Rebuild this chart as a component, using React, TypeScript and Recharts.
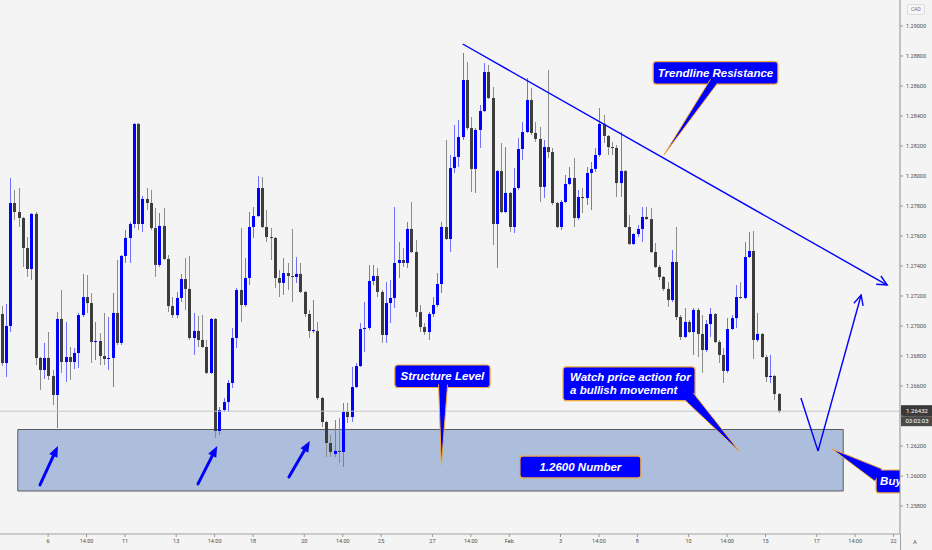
import React from 'react';
import { ComposedChart, Bar, XAxis, YAxis, ReferenceLine, ReferenceArea } from 'recharts';

// USDCAD 4H candles (one value per candle)
const opens = [
  1.2708, 1.26753, 1.27, 1.2782, 1.2776, 1.2772, 1.2752, 1.2738, 1.27747, 1.26787,
  1.26707, 1.26787, 1.26667, 1.2654, 1.27047, 1.2676, 1.26793, 1.2676, 1.2682, 1.27073,
  1.27193, 1.27153, 1.26893, 1.269, 1.268, 1.2678, 1.26787, 1.27087, 1.26887, 1.27467,
  1.27587, 1.2768, 1.28347, 1.2768, 1.27847, 1.2782, 1.27653, 1.27407, 1.27667, 1.27447,
  1.27133, 1.27073, 1.27187, 1.27313, 1.27247, 1.2692, 1.26967, 1.26907, 1.2686, 1.26687,
  1.27047, 1.263, 1.2644, 1.26493, 1.2662, 1.2692, 1.2724, 1.2714, 1.2732, 1.2766,
  1.27733, 1.2792, 1.2766, 1.27593, 1.27587, 1.2732, 1.27287, 1.27353, 1.27333, 1.27327,
  1.27347, 1.27227, 1.2708, 1.26967, 1.26967, 1.2652, 1.2636, 1.2622, 1.26147, 1.26167,
  1.2616, 1.26427, 1.26393, 1.26593, 1.26733, 1.2698, 1.26987, 1.273, 1.27333, 1.27227,
  1.2694, 1.27153, 1.27187, 1.2742, 1.2744, 1.2742, 1.27647, 1.27493, 1.27093, 1.26993,
  1.2696, 1.2708, 1.2714, 1.2728, 1.2766, 1.2758, 1.28053, 1.28127, 1.2826, 1.2864,
  1.2832, 1.28047, 1.28307, 1.28433, 1.28693, 1.2852, 1.2768, 1.28033, 1.2776, 1.27887,
  1.2766, 1.2792, 1.2818, 1.28293, 1.28507, 1.28287, 1.28247, 1.27927, 1.28193, 1.2816,
  1.2782, 1.2766, 1.27827, 1.27947, 1.27987, 1.2772, 1.2786, 1.27853, 1.2802, 1.28047,
  1.2814, 1.28347, 1.28267, 1.28193, 1.28187, 1.27953, 1.28033, 1.2766, 1.27547, 1.27613,
  1.27647, 1.27727, 1.27713, 1.27493, 1.27393, 1.27327, 1.27247, 1.27173, 1.27427, 1.2706,
  1.26927, 1.27027, 1.2696, 1.27107, 1.26947, 1.2684, 1.27013, 1.2708, 1.26893, 1.26807,
  1.267, 1.2698, 1.27053, 1.27193, 1.27187, 1.2746, 1.275, 1.26907, 1.26947, 1.26793,
  1.2666, 1.26667, 1.26547,
];
const highs = [
  1.27133, 1.27147, 1.27987, 1.27907, 1.2792, 1.27727, 1.27593, 1.27753, 1.2776, 1.26793,
  1.26887, 1.2696, 1.26707, 1.27093, 1.2724, 1.27027, 1.2686, 1.26853, 1.27087, 1.27347,
  1.2734, 1.2722, 1.27027, 1.26953, 1.27087, 1.2706, 1.2722, 1.2744, 1.27473, 1.2764,
  1.27693, 1.28353, 1.28353, 1.27867, 1.2792, 1.27907, 1.27787, 1.27753, 1.27787, 1.27473,
  1.27193, 1.27227, 1.27347, 1.27453, 1.27467, 1.27087, 1.27067, 1.27073, 1.26907, 1.27053,
  1.27053, 1.2646, 1.2652, 1.2664, 1.26987, 1.27253, 1.27653, 1.27453, 1.2776, 1.27793,
  1.28, 1.27993, 1.27773, 1.27653, 1.27593, 1.27373, 1.27453, 1.2742, 1.27647, 1.2746,
  1.2742, 1.27233, 1.27107, 1.27173, 1.27027, 1.26527, 1.26367, 1.26273, 1.26373, 1.26387,
  1.26487, 1.26487, 1.26727, 1.26753, 1.2702, 1.2716, 1.27407, 1.27407, 1.27387, 1.2724,
  1.27293, 1.27307, 1.27793, 1.2756, 1.2752, 1.27693, 1.27827, 1.27573, 1.2714, 1.2702,
  1.27093, 1.27193, 1.27353, 1.27693, 1.2824, 1.2814, 1.2834, 1.28373, 1.2882, 1.2876,
  1.28393, 1.2832, 1.28473, 1.28753, 1.2874, 1.28593, 1.2804, 1.2822, 1.28193, 1.27893,
  1.28053, 1.28253, 1.2836, 1.28653, 1.28587, 1.2836, 1.28327, 1.2824, 1.28707, 1.28187,
  1.27827, 1.2784, 1.28007, 1.2806, 1.2812, 1.27907, 1.2792, 1.2806, 1.28093, 1.28187,
  1.28453, 1.28407, 1.28273, 1.28227, 1.28207, 1.28293, 1.2804, 1.2774, 1.2762, 1.27673,
  1.27793, 1.27793, 1.27787, 1.27553, 1.27407, 1.27333, 1.27293, 1.27507, 1.2766, 1.27073,
  1.2712, 1.2704, 1.2712, 1.2712, 1.27073, 1.2704, 1.2712, 1.27087, 1.26907, 1.26853,
  1.27053, 1.27073, 1.27273, 1.27293, 1.2756, 1.27627, 1.27633, 1.27087, 1.26953, 1.26807,
  1.26807, 1.26673, 1.26553,
];
const lows = [
  1.26733, 1.2666, 1.2696, 1.27707, 1.2766, 1.27393, 1.27327, 1.27307, 1.2674, 1.26573,
  1.26647, 1.2664, 1.26473, 1.2632, 1.26687, 1.26627, 1.2664, 1.26713, 1.2672, 1.2706,
  1.27087, 1.26753, 1.26773, 1.2674, 1.2674, 1.26707, 1.26593, 1.26873, 1.26873, 1.2742,
  1.2742, 1.27653, 1.2764, 1.27627, 1.27773, 1.2764, 1.27327, 1.27393, 1.2744, 1.27093,
  1.27053, 1.27053, 1.2716, 1.27107, 1.26907, 1.26807, 1.2686, 1.26853, 1.2668, 1.2668,
  1.26253, 1.26273, 1.26427, 1.26427, 1.26587, 1.26853, 1.27027, 1.27127, 1.27273, 1.27587,
  1.27727, 1.27653, 1.2756, 1.2744, 1.27253, 1.27193, 1.27207, 1.2724, 1.2716, 1.27287,
  1.2722, 1.2706, 1.2692, 1.26953, 1.26507, 1.26327, 1.26127, 1.26127, 1.26127, 1.26087,
  1.2606, 1.26353, 1.2636, 1.26587, 1.26727, 1.26827, 1.26973, 1.27273, 1.27193, 1.26887,
  1.26887, 1.2702, 1.2712, 1.2732, 1.27393, 1.27387, 1.27487, 1.2706, 1.2696, 1.2694,
  1.26907, 1.2706, 1.27127, 1.2722, 1.27573, 1.27493, 1.2802, 1.2806, 1.2824, 1.28307,
  1.27893, 1.27887, 1.28187, 1.28427, 1.28513, 1.2754, 1.27387, 1.27753, 1.27753, 1.27627,
  1.2762, 1.27907, 1.28107, 1.28287, 1.28273, 1.28227, 1.27827, 1.27853, 1.2812, 1.27807,
  1.27653, 1.2764, 1.2782, 1.2794, 1.2766, 1.27707, 1.27753, 1.27807, 1.27773, 1.28027,
  1.28127, 1.2822, 1.2814, 1.2814, 1.2786, 1.2786, 1.27653, 1.2754, 1.2754, 1.27593,
  1.2756, 1.27707, 1.27487, 1.27387, 1.27307, 1.27233, 1.27127, 1.2716, 1.2704, 1.26907,
  1.2692, 1.26953, 1.26807, 1.26793, 1.26687, 1.26827, 1.26927, 1.26887, 1.26753, 1.2662,
  1.26687, 1.26973, 1.26987, 1.2718, 1.2718, 1.27453, 1.2678, 1.26893, 1.26787, 1.26627,
  1.2662, 1.26507, 1.2642,
];
const closes = [
  1.26753, 1.27, 1.2782, 1.2776, 1.2772, 1.2752, 1.2738, 1.27747, 1.26787, 1.26707,
  1.26787, 1.26667, 1.2654, 1.27047, 1.2676, 1.26793, 1.2676, 1.2682, 1.27073, 1.27193,
  1.27153, 1.26893, 1.269, 1.268, 1.2678, 1.26787, 1.27087, 1.26887, 1.27467, 1.27587,
  1.2768, 1.28347, 1.2768, 1.27847, 1.2782, 1.27653, 1.27407, 1.27667, 1.27447, 1.27133,
  1.27073, 1.27187, 1.27313, 1.27247, 1.2692, 1.26967, 1.26907, 1.2686, 1.26687, 1.27047,
  1.263, 1.2644, 1.26493, 1.2662, 1.2692, 1.2724, 1.2714, 1.2732, 1.2766, 1.27733,
  1.2792, 1.2766, 1.27593, 1.27587, 1.2732, 1.27287, 1.27353, 1.27333, 1.27327, 1.27347,
  1.27227, 1.2708, 1.26967, 1.26973, 1.2652, 1.2636, 1.2622, 1.2616, 1.26167, 1.2616,
  1.26427, 1.26393, 1.26593, 1.26733, 1.2698, 1.26987, 1.273, 1.27333, 1.27227, 1.2694,
  1.27153, 1.27187, 1.2742, 1.2744, 1.2742, 1.27647, 1.27493, 1.27093, 1.26993, 1.2696,
  1.2708, 1.2714, 1.2728, 1.2766, 1.2758, 1.28053, 1.28127, 1.2826, 1.2864, 1.2832,
  1.28047, 1.28307, 1.28433, 1.28693, 1.2852, 1.2768, 1.28033, 1.2776, 1.27887, 1.2766,
  1.2792, 1.2818, 1.28293, 1.28507, 1.28287, 1.28247, 1.27927, 1.28193, 1.2816, 1.2782,
  1.2766, 1.27827, 1.27947, 1.27987, 1.2772, 1.2786, 1.27853, 1.2802, 1.28047, 1.2814,
  1.28347, 1.28267, 1.28193, 1.28187, 1.27953, 1.28033, 1.2766, 1.27547, 1.27613, 1.27647,
  1.27727, 1.27713, 1.27493, 1.27393, 1.27327, 1.27247, 1.27173, 1.27427, 1.2706, 1.26927,
  1.27027, 1.2696, 1.27107, 1.26947, 1.2684, 1.27013, 1.2708, 1.26893, 1.26807, 1.267,
  1.2698, 1.27053, 1.27193, 1.27187, 1.2746, 1.275, 1.26907, 1.26947, 1.26793, 1.2666,
  1.26667, 1.26547, 1.26432,
];

// time axis: candle slot index -> label
const timeTicks = [11, 20, 29, 41, 50, 59, 71, 80, 89, 101, 110, 119, 131, 140, 149, 161, 170, 179, 191, 200, 209];
const timeLabels = ['6', '14:00', '11', '13', '14:00', '18', '20', '14:00', '25', '27', '14:00', 'Feb', '3', '14:00', '8', '10', '14:00', '15', '17', '14:00', '22'];
const priceTicks = [1.258, 1.26, 1.262, 1.264, 1.266, 1.268, 1.27, 1.272, 1.274, 1.276, 1.278, 1.28, 1.282, 1.284, 1.286, 1.288, 1.29];
const lastPrice = 1.26432;

const SLOTS = 211; // visible candles plus empty space on the right
const BULL = '#0000ff';
const BEAR = '#3d3d3d';
const BULL_WICK = '#7070ff';
const BEAR_WICK = '#8c8c8c';
const TAG_BLUE = '#0000ff';
const GOLD = '#f2a93b';
const AXIS_TEXT = '#4d4d4d';

const rows = Array.from({ length: SLOTS }, (_, i) =>
  i < opens.length
    ? { i, o: opens[i], h: highs[i], l: lows[i], c: closes[i], range: [lows[i], highs[i]] }
    : { i },
);

function Candle(props: any) {
  const { x, y, width, height, payload } = props;
  if (!payload || payload.o == null || !isFinite(y) || !isFinite(height)) return null;
  const { o, h, l, c } = payload;
  const top = Math.min(y, y + height);
  const span = Math.abs(height);
  const k = h > l ? span / (h - l) : 0;
  const cx = Math.round(x + width / 2) + 0.5;
  const up = c >= o;
  const bodyTop = top + (h - Math.max(o, c)) * k;
  const bodyH = Math.max(1, Math.abs(o - c) * k);
  return (
    <g>
      <line x1={cx} x2={cx} y1={top} y2={top + span} stroke={up ? BULL_WICK : BEAR_WICK} strokeWidth={1} />
      <rect x={cx - 1.5} y={bodyTop} width={3} height={bodyH} fill={up ? BULL : BEAR} />
    </g>
  );
}

function Callout(props: any) {
  const { x, y, width, height, lines, align, open, pad = 7 } = props;
  const fs = 11.5;
  const lh = 13;
  const mid = y + height / 2;
  const first = mid - ((lines.length - 1) * lh) / 2 + fs * 0.35;
  const tx = align === 'start' ? x + pad : x + width / 2;
  const clipId = open ? `cut-${Math.round(x)}-${Math.round(y)}` : undefined;
  return (
    <g>
      {open && (
        <defs>
          <clipPath id={clipId}>
            <rect x={x - 2} y={y - 2} width={width + 2} height={height + 4} />
          </clipPath>
        </defs>
      )}
      <rect
        x={x}
        y={y}
        width={open ? width + 12 : width}
        height={height}
        rx={3}
        fill={TAG_BLUE}
        stroke={GOLD}
        strokeWidth={1.2}
        clipPath={open ? `url(#${clipId})` : undefined}
      />
      <text
        textAnchor={align === 'start' ? 'start' : 'middle'}
        fill="#ffffff"
        fontSize={fs}
        fontWeight="bold"
        fontStyle="italic"
        fontFamily="'Liberation Sans', Arial, sans-serif"
      >
        {lines.map((t: string, n: number) => (
          <tspan key={n} x={tx} y={first + n * lh}>{t}</tspan>
        ))}
      </text>
    </g>
  );
}

// callout pointer: first point = base centre, second point = tip
function Tail(props: any) {
  const { x1, y1, x2, y2, w } = props;
  const len = Math.hypot(x2 - x1, y2 - y1) || 1;
  const nx = -(y2 - y1) / len;
  const ny = (x2 - x1) / len;
  const pts = `${x1 + (nx * w) / 2},${y1 + (ny * w) / 2} ${x2},${y2} ${x1 - (nx * w) / 2},${y1 - (ny * w) / 2}`;
  return (
    <g>
      <polygon points={pts} fill={TAG_BLUE} />
      <polyline points={pts} fill="none" stroke={GOLD} strokeWidth={1} />
    </g>
  );
}

function Pen(props: any) {
  const { x1, y1, x2, y2, head } = props;
  const a = Math.atan2(y2 - y1, x2 - x1);
  const hl = 11;
  const s = 0.45;
  return (
    <g>
      <line x1={x1} y1={y1} x2={x2} y2={y2} stroke={BULL} strokeWidth={1.4} />
      {head && (
        <polyline
          points={`${x2 - hl * Math.cos(a - s)},${y2 - hl * Math.sin(a - s)} ${x2},${y2} ${x2 - hl * Math.cos(a + s)},${y2 - hl * Math.sin(a + s)}`}
          fill="none"
          stroke={BULL}
          strokeWidth={1.4}
        />
      )}
    </g>
  );
}

function FatArrow(props: any) {
  const { x1, y1, x2, y2 } = props;
  const a = Math.atan2(y2 - y1, x2 - x1);
  const hl = 11;
  const hw = 4.5;
  const bx = x2 - hl * Math.cos(a);
  const by = y2 - hl * Math.sin(a);
  const px = -Math.sin(a);
  const py = Math.cos(a);
  return (
    <g>
      <line x1={x1} y1={y1} x2={bx} y2={by} stroke={BULL} strokeWidth={3} strokeLinecap="round" />
      <polygon points={`${x2},${y2} ${bx + px * hw},${by + py * hw} ${bx - px * hw},${by - py * hw}`} fill={BULL} />
    </g>
  );
}

function PriceTag(props: any) {
  const vb = props.viewBox || {};
  const x = vb.x + vb.width + 1;
  const y = vb.y;
  return (
    <g fontFamily="Roboto, sans-serif" fontSize={6}>
      <rect x={x} y={y - 6} width={32} height={11} fill="#3a3a3a" />
      <text x={x + 16} y={y + 2} fill="#ffffff" textAnchor="middle">{lastPrice.toFixed(5)}</text>
      <rect x={x} y={y + 5} width={32} height={10} fill="#4a4a4a" />
      <text x={x + 16} y={y + 12.2} fill="#ffffff" textAnchor="middle">03:02:03</text>
    </g>
  );
}

export default function App() {
  return (
    <div style={{ position: 'fixed', left: 0, top: 0, width: 932, height: 550, background: '#f4f4f4', overflow: 'hidden' }}>
      <div style={{ position: 'absolute', left: -1, top: 0 }}>
        <ComposedChart width={933} height={550} data={rows} margin={{ top: 0, right: 0, bottom: 0, left: 0 }}>
          <XAxis
            dataKey="i"
            type="category"
            ticks={timeTicks}
            interval={0}
            tickFormatter={(v: number) => timeLabels[timeTicks.indexOf(v)] ?? ''}
            height={16}
            tickSize={3}
            tickLine={{ stroke: '#9a9a9a' }}
            axisLine={{ stroke: '#a0a0a0' }}
            tick={{ fontSize: 5.5, fill: AXIS_TEXT, fontFamily: 'Roboto, sans-serif' }}
          />
          <XAxis xAxisId="n" dataKey="i" type="number" domain={[-0.5, SLOTS - 0.5]} allowDataOverflow hide />
          <YAxis
            orientation="right"
            type="number"
            domain={[1.256133, 1.291733]}
            allowDataOverflow
            ticks={priceTicks}
            interval={0}
            tickFormatter={(v: number) => v.toFixed(5)}
            width={32}
            tickSize={3}
            tickMargin={3}
            tickLine={{ stroke: '#9a9a9a' }}
            axisLine={{ stroke: '#8f8f8f' }}
            tick={{ fontSize: 5.5, fill: AXIS_TEXT, fontFamily: 'Roboto, sans-serif' }}
          />

          {/* support zone */}
          <ReferenceArea xAxisId="n" x1={3.9} x2={197.2} y1={1.259} y2={1.2631} fill="#adbedc" fillOpacity={1} stroke="#5b5b5b" strokeWidth={1} />

          <ReferenceLine y={lastPrice} stroke="#c6c6c6" strokeWidth={1} label={<PriceTag />} />

          <Bar dataKey="range" barSize={3} shape={(p: any) => <Candle {...p} />} isAnimationActive={false} />

          {/* arrows touching the zone */}
          <ReferenceLine xAxisId="n" segment={[{ x: 9.1, y: 1.2594 }, { x: 13.3, y: 1.262 }]} shape={(p: any) => <FatArrow {...p} />} />
          <ReferenceLine xAxisId="n" segment={[{ x: 46.1, y: 1.25947 }, { x: 50.6, y: 1.262 }]} shape={(p: any) => <FatArrow {...p} />} />
          <ReferenceLine xAxisId="n" segment={[{ x: 67.4, y: 1.25993 }, { x: 72.3, y: 1.26233 }]} shape={(p: any) => <FatArrow {...p} />} />

          {/* trendline */}
          <ReferenceLine xAxisId="n" segment={[{ x: 108.1, y: 1.2888 }, { x: 207.5, y: 1.27273 }]} shape={(p: any) => <Pen {...p} head />} />

          {/* projected path */}
          <ReferenceLine xAxisId="n" segment={[{ x: 187.3, y: 1.2652 }, { x: 191.3, y: 1.26167 }]} shape={(p: any) => <Pen {...p} />} />
          <ReferenceLine xAxisId="n" segment={[{ x: 191.3, y: 1.26167 }, { x: 201.4, y: 1.27207 }]} shape={(p: any) => <Pen {...p} head />} />

          {/* callouts */}
          <ReferenceArea xAxisId="n" x1={152.7} x2={181.9} y1={1.28613} y2={1.28763} shape={(p: any) => <Callout {...p} lines={['Trendline Resistance']} />} />
          <ReferenceLine xAxisId="n" segment={[{ x: 166.9, y: 1.2863 }, { x: 155.2, y: 1.2814 }]} shape={(p: any) => <Tail {...p} w={8} />} />

          <ReferenceArea xAxisId="n" x1={92.2} x2={114.5} y1={1.2659} y2={1.2674} shape={(p: any) => <Callout {...p} lines={['Structure Level']} />} />
          <ReferenceLine xAxisId="n" segment={[{ x: 103.5, y: 1.2661 }, { x: 103.1, y: 1.26067 }]} shape={(p: any) => <Tail {...p} w={9} />} />

          <ReferenceArea xAxisId="n" x1={131.6} x2={162.5} y1={1.26503} y2={1.26727} shape={(p: any) => <Callout {...p} align="start" lines={['Watch price action for', 'a bullish movement']} />} />
          <ReferenceLine xAxisId="n" segment={[{ x: 161.1, y: 1.2653 }, { x: 173.0, y: 1.2616 }]} shape={(p: any) => <Tail {...p} w={11} />} />

          <ReferenceArea xAxisId="n" x1={121.5} x2={149.8} y1={1.25987} y2={1.26133} shape={(p: any) => <Callout {...p} lines={['1.2600 Number']} />} />

          <ReferenceArea xAxisId="n" x1={204.9} x2={210.5} y1={1.25887} y2={1.2604} shape={(p: any) => <Callout {...p} align="start" open pad={4} lines={['Buy']} />} />
          <ReferenceLine xAxisId="n" segment={[{ x: 205.4, y: 1.26007 }, { x: 194.6, y: 1.2618 }]} shape={(p: any) => <Tail {...p} w={14} />} />
        </ComposedChart>
      </div>
      <div style={{ position: 'absolute', left: 907, top: 4, width: 16, height: 9, border: '1px solid #dcdcdc', borderRadius: 2, background: '#f7f7f7', color: '#707070', font: '5px Roboto, sans-serif', lineHeight: '9px', textAlign: 'center' }}>CAD</div>
      <div style={{ position: 'absolute', left: 900, top: 534, width: 1, height: 16, background: '#a0a0a0' }} />
      <div style={{ position: 'absolute', left: 913, top: 538, color: '#555', font: '6px Roboto, sans-serif' }}>A</div>
    </div>
  );
}
